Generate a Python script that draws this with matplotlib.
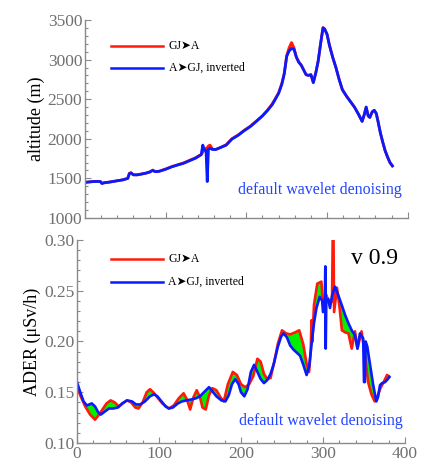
import numpy as np
import matplotlib
matplotlib.use('Agg')
import matplotlib.pyplot as plt
from matplotlib.ticker import MultipleLocator

plt.rcParams['font.family'] = ['Liberation Serif', 'DejaVu Sans']

# altitude along the route (same distance grid for both directions)
alt_x = [0, 5, 10, 15, 19, 21, 24, 28, 33, 40, 47, 53, 55, 57, 60, 65, 70, 75, 80, 84,
         87, 92, 100, 108, 115, 122, 130, 137, 141, 144, 146, 148, 150, 151.5, 153, 155,
         158, 162, 168, 175, 182, 190, 197, 205, 213, 220, 226, 232, 236, 240, 244, 247,
         250, 253, 256, 259, 262, 265, 268, 271, 274, 277, 280, 283, 286, 289, 292, 295,
         297, 300, 303, 307, 311, 315, 319, 324, 329, 334, 339, 343.5, 346, 348.5, 351,
         353, 356, 358.5, 361, 363, 366, 369, 372, 375, 378, 381]
alt_fwd = [1450, 1455, 1460, 1462, 1460, 1440, 1445, 1450, 1458, 1470, 1482, 1500, 1565,
           1570, 1545, 1545, 1555, 1565, 1580, 1605, 1585, 1590, 1620, 1650, 1672, 1695,
           1730, 1760, 1785, 1800, 1830, 1860, 1880, 1885, 1910, 1920, 1870, 1865, 1890,
           1925, 2000, 2050, 2105, 2160, 2230, 2290, 2360, 2440, 2510, 2580, 2700, 2830,
           3050, 3150, 3215, 3150, 3030, 2970, 2930, 2870, 2810, 2800, 2810, 2710, 2830,
           2980, 3200, 3405, 3390, 3320, 3180, 3030, 2900, 2750, 2620, 2540, 2470, 2400,
           2310, 2220, 2300, 2400, 2290, 2270, 2340, 2360, 2320, 2230, 2080, 1960, 1850,
           1770, 1700, 1655]
alt_rev = [1450, 1455, 1460, 1462, 1460, 1435, 1445, 1450, 1458, 1470, 1482, 1500, 1560,
           1570, 1545, 1545, 1555, 1565, 1580, 1600, 1585, 1590, 1615, 1648, 1670, 1690,
           1725, 1755, 1780, 1800, 1920, 1860, 1850, 1460, 1870, 1880, 1865, 1865, 1890,
           1920, 1995, 2045, 2100, 2155, 2225, 2290, 2355, 2430, 2500, 2575, 2690, 2820,
           3040, 3110, 3140, 3130, 3030, 2965, 2930, 2870, 2810, 2800, 2810, 2710, 2830,
           2980, 3200, 3400, 3385, 3320, 3180, 3030, 2900, 2750, 2620, 2540, 2470, 2400,
           2310, 2220, 2300, 2400, 2290, 2270, 2340, 2360, 2320, 2230, 2080, 1960, 1850,
           1770, 1700, 1660]

# ambient dose equivalent rate, GJ->A
ader_fwd_x = [0, 5, 10, 16, 22, 27, 31, 36, 41, 46, 51, 56, 61, 66, 71, 75, 80, 85, 89, 93,
              98, 104, 112, 118, 124, 130, 134, 138, 142, 146, 150, 153, 157, 161, 165, 170,
              175, 179, 184, 190, 195, 200, 205, 210, 215, 220, 224, 228, 232, 236, 240, 245,
              250, 255, 260, 266, 271, 276, 280, 283, 285, 286, 287, 289, 293, 298, 300, 304,
              308, 311, 311.8, 312.8, 313.5, 317, 320, 323, 327, 331, 335, 339, 342, 347, 351,
              355, 359, 363, 366, 370, 374, 378, 380]
ader_fwd = [0.155, 0.145, 0.136, 0.128, 0.123, 0.128, 0.133, 0.139, 0.142, 0.140, 0.136,
            0.139, 0.142, 0.140, 0.135, 0.134, 0.140, 0.150, 0.153, 0.150, 0.145, 0.139,
            0.134, 0.137, 0.144, 0.149, 0.143, 0.133, 0.145, 0.152, 0.145, 0.135, 0.133,
            0.147, 0.154, 0.152, 0.145, 0.141, 0.158, 0.170, 0.167, 0.158, 0.155, 0.158,
            0.166, 0.183, 0.180, 0.168, 0.163, 0.164, 0.178, 0.198, 0.211, 0.208, 0.207,
            0.209, 0.211, 0.197, 0.178, 0.170, 0.190, 0.221, 0.200, 0.236, 0.257, 0.259,
            0.236, 0.246, 0.236, 0.240, 0.300, 0.300, 0.229, 0.253, 0.235, 0.211, 0.209,
            0.208, 0.193, 0.210, 0.193, 0.210, 0.187, 0.160, 0.148, 0.141, 0.145, 0.154,
            0.160, 0.167, 0.166]

# A->GJ, inverted
ader_rev_x = [0, 4, 8, 12, 18, 22, 26, 29, 34, 39, 44, 50, 55, 61, 67, 72, 77, 83, 89, 94,
              98, 103, 108, 112, 117, 123, 128, 134, 140, 145, 150, 156, 161, 165, 170, 176,
              181, 185, 189, 193, 197, 200, 204, 208, 212, 216, 220, 224, 228, 232, 236, 240,
              245, 249, 252, 256, 260, 264, 268, 272, 276, 280, 283, 286, 289, 292, 296, 299,
              300, 302, 302.8, 303.3, 304, 306.5, 308.5, 311, 314.6, 318, 322.8, 327, 331,
              335, 339, 342, 345, 349, 350, 351, 352, 354, 357.4, 361, 365, 367, 369.5, 372,
              375.6, 378, 381]
ader_rev = [0.160, 0.150, 0.141, 0.137, 0.139, 0.136, 0.130, 0.128, 0.131, 0.134, 0.134,
            0.135, 0.139, 0.142, 0.141, 0.138, 0.138, 0.141, 0.146, 0.148, 0.146, 0.141,
            0.136, 0.134, 0.135, 0.139, 0.141, 0.142, 0.143, 0.144, 0.146, 0.151, 0.155,
            0.151, 0.146, 0.142, 0.141, 0.147, 0.158, 0.163, 0.158, 0.150, 0.146, 0.153,
            0.170, 0.177, 0.170, 0.163, 0.159, 0.162, 0.168, 0.178, 0.195, 0.205, 0.208,
            0.204, 0.196, 0.192, 0.189, 0.186, 0.177, 0.167, 0.175, 0.197, 0.218, 0.233,
            0.244, 0.240, 0.229, 0.230, 0.274, 0.193, 0.240, 0.242, 0.233, 0.245, 0.254,
            0.247, 0.236, 0.226, 0.218, 0.211, 0.206, 0.193, 0.208, 0.203, 0.160, 0.160,
            0.200, 0.195, 0.177, 0.158, 0.141, 0.145, 0.157, 0.159, 0.160, 0.162, 0.165]

labels = ['GJ\u27a4A', 'A\u27a4GJ, inverted']
RED = '#ff1a0a'
BLUE = '#0a1aff'
GREEN = '#00f000'
GRAY = '#8a8a8a'


def style_axis(ax):
    for s in ['top', 'right']:
        ax.spines[s].set_visible(False)
    for s in ['left', 'bottom']:
        ax.spines[s].set_color(GRAY)
        ax.spines[s].set_linewidth(1.0)
    ax.tick_params(which='both', direction='in', color=GRAY, labelcolor='#707070',
                   labelsize=12.5, width=0.8)
    ax.tick_params(axis='y', pad=2)
    ax.tick_params(axis='x', pad=2)
    ax.tick_params(which='major', length=4.5)
    ax.tick_params(which='minor', length=2.5)
    ax.set_xlim(0, 400)
    ax.xaxis.set_major_locator(MultipleLocator(100))
    ax.xaxis.set_minor_locator(MultipleLocator(20))


def legend_lines(ax, x0, x1, x_txt, y_red, y_blue):
    ax.plot([x0, x1], [y_red, y_red], color=RED, lw=1.8, transform=ax.transAxes)
    ax.plot([x0, x1], [y_blue, y_blue], color=BLUE, lw=1.8, transform=ax.transAxes)
    ax.text(x_txt, y_red, labels[0], transform=ax.transAxes, va='center', fontsize=8.5)
    ax.text(x_txt, y_blue, labels[1], transform=ax.transAxes, va='center', fontsize=8.5)


fig = plt.figure(figsize=(4.28, 4.65), dpi=100)
ax1 = fig.add_axes([0.1986, 0.5312, 0.754, 0.4258])
ax2 = fig.add_axes([0.1799, 0.0473, 0.7664, 0.4366])

# top: altitude
ax1.fill_between(alt_x, alt_fwd, alt_rev, color=GREEN, lw=0)
ax1.plot(alt_x, alt_fwd, color=RED, lw=2.0)
ax1.plot(alt_x, alt_rev, color=BLUE, lw=2.0)
style_axis(ax1)
ax1.set_ylim(1000, 3500)
ax1.yaxis.set_major_locator(MultipleLocator(500))
ax1.yaxis.set_minor_locator(MultipleLocator(100))
ax1.set_xticklabels([])
ax1.set_ylabel('altitude (m)', fontsize=13, labelpad=2)
legend_lines(ax1, 0.081, 0.242, 0.26, 0.869, 0.758)
ax1.text(0.98, 0.14, 'default wavelet denoising', transform=ax1.transAxes,
         color='#2244ff', fontsize=11.5, ha='right', va='center')

# bottom: dose rate, green where the two directions differ
poly_x = np.concatenate([ader_fwd_x, ader_rev_x[::-1]])
poly_y = np.concatenate([ader_fwd, ader_rev[::-1]])
ax2.fill(poly_x, poly_y, color=GREEN, lw=0)
ax2.plot(ader_fwd_x, ader_fwd, color=RED, lw=1.9)
ax2.plot(ader_rev_x, ader_rev, color=BLUE, lw=1.9)
style_axis(ax2)
ax2.set_ylim(0.10, 0.30)
ax2.yaxis.set_major_locator(MultipleLocator(0.05))
ax2.yaxis.set_minor_locator(MultipleLocator(0.01))
ax2.yaxis.set_major_formatter(matplotlib.ticker.FormatStrFormatter('%.2f'))
ax2.set_ylabel('ADER (\u03bcSv/h)', fontsize=13, labelpad=2)
legend_lines(ax2, 0.104, 0.262, 0.278, 0.906, 0.793)
ax2.text(0.993, 0.11, 'default wavelet denoising', transform=ax2.transAxes,
         color='#2244ff', fontsize=11.5, ha='right', va='center')
ax2.text(0.98, 0.91, 'v 0.9', transform=ax2.transAxes, fontsize=17, ha='right',
         va='center')

fig.savefig('out.png', dpi=100)
